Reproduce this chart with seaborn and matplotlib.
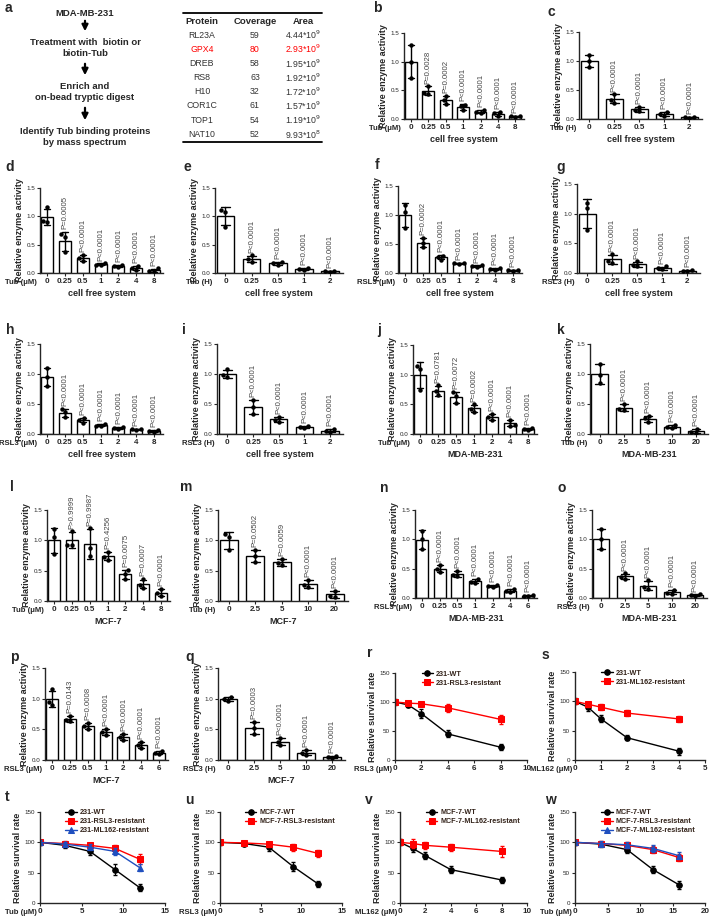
import matplotlib
matplotlib.use('Agg')
import matplotlib.pyplot as plt
import seaborn as sns
import pandas as pd
import numpy as np

sns.set_style('ticks')
plt.rcParams['font.family'] = ['Liberation Sans', 'DejaVu Sans']
plt.rcParams['axes.linewidth'] = 1.0

# ---- panel a table ----
proteins = ['RL23A', 'GPX4', 'DREB', 'RS8', 'H10', 'COR1C', 'TOP1', 'NAT10']
coverage = [59, 80, 58, 63, 32, 61, 54, 52]
area = ['4.44*10$^9$', '2.93*10$^9$', '1.95*10$^9$', '1.92*10$^9$',
        '1.72*10$^9$', '1.57*10$^9$', '1.19*10$^9$', '9.93*10$^8$']
flow_steps = ['MDA-MB-231', 'Treatment with  biotin or\nbiotin-Tub',
              'Enrich and\non-bead tryptic digest',
              'Identify Tub binding proteins\nby mass spectrum']

# ---- bar panels: doses and 3 replicates per dose ----
dose_um = ['0', '0.25', '0.5', '1', '2', '4', '8']
dose_um6 = ['0', '0.25', '0.5', '1', '2', '4', '6']
dose_h = ['0', '0.25', '0.5', '1', '2']
dose_h2 = ['0', '2.5', '5', '10', '20']

b_reps = [[0.71, 1.0, 1.29], [0.58, 0.44, 0.45], [0.40, 0.33, 0.26], [0.25, 0.22, 0.15],
          [0.16, 0.12, 0.11], [0.12, 0.10, 0.05], [0.06, 0.05, 0.04]]
b_p = ['P=0.0028', 'P=0.0002', 'P<0.0001', 'P<0.0001', 'P<0.0001', 'P<0.0001']
c_reps = [[1.1, 1.0, 0.9], [0.43, 0.33, 0.28], [0.21, 0.16, 0.13], [0.12, 0.09, 0.06],
          [0.04, 0.03, 0.02]]
c_p = ['P<0.0001'] * 4
d_reps = [[1.16, 0.92, 0.90], [0.68, 0.64, 0.37], [0.32, 0.27, 0.22], [0.17, 0.15, 0.14],
          [0.15, 0.13, 0.11], [0.13, 0.08, 0.06], [0.08, 0.04, 0.03]]
d_p = ['P=0.0005'] + ['P<0.0001'] * 5
e_reps = [[1.12, 1.08, 0.82], [0.31, 0.24, 0.20], [0.19, 0.17, 0.15], [0.09, 0.07, 0.05],
          [0.04, 0.03, 0.02]]
e_p = ['P<0.0001'] * 4
f_reps = [[1.17, 1.05, 0.78], [0.60, 0.52, 0.44], [0.30, 0.28, 0.23], [0.18, 0.17, 0.16],
          [0.13, 0.12, 0.11], [0.08, 0.07, 0.06], [0.06, 0.05, 0.04]]
f_p = ['P=0.0002'] + ['P<0.0001'] * 5
g_reps = [[1.18, 1.10, 0.72], [0.32, 0.20, 0.17], [0.20, 0.13, 0.12], [0.11, 0.08, 0.06],
          [0.05, 0.04, 0.03]]
g_p = ['P<0.0001'] * 4
h_reps = [[1.10, 0.95, 0.80], [0.41, 0.36, 0.28], [0.27, 0.24, 0.19], [0.16, 0.14, 0.13],
          [0.11, 0.10, 0.09], [0.09, 0.08, 0.07], [0.07, 0.05, 0.04]]
h_p = ['P<0.0001'] * 6
i_reps = [[1.08, 0.99, 0.95], [0.56, 0.45, 0.33], [0.29, 0.24, 0.20], [0.14, 0.12, 0.10],
          [0.08, 0.05, 0.04]]
i_p = ['P<0.0001'] * 4
j_reps = [[1.15, 1.10, 0.75], [0.82, 0.72, 0.65], [0.70, 0.64, 0.52], [0.50, 0.42, 0.37],
          [0.34, 0.28, 0.24], [0.24, 0.16, 0.14], [0.10, 0.08, 0.06]]
j_p = ['P=0.0781', 'P=0.0072', 'P=0.0002', 'P<0.0001', 'P<0.0001', 'P<0.0001']
k_reps = [[1.17, 0.98, 0.85], [0.50, 0.42, 0.40], [0.30, 0.26, 0.20], [0.15, 0.12, 0.10],
          [0.09, 0.04, 0.02]]
k_p = ['P<0.0001'] * 4
l_reps = [[1.18, 1.05, 0.77], [1.15, 0.93, 0.92], [1.21, 0.87, 0.74], [0.81, 0.73, 0.68],
          [0.51, 0.45, 0.36], [0.36, 0.27, 0.22], [0.20, 0.13, 0.09]]
l_p = ['P>0.9999', 'P=0.9987', 'P=0.4256', 'P=0.0075', 'P=0.0007', 'P<0.0001']
m_reps = [[1.10, 1.06, 0.84], [0.84, 0.74, 0.64], [0.70, 0.63, 0.59], [0.35, 0.26, 0.23],
          [0.17, 0.09, 0.07]]
m_p = ['P=0.0502', 'P=0.0059', 'P<0.0001', 'P<0.0001']
n_reps = [[1.15, 1.00, 0.83], [0.56, 0.50, 0.44], [0.46, 0.40, 0.37], [0.32, 0.28, 0.26],
          [0.22, 0.20, 0.19], [0.15, 0.12, 0.10], [0.05, 0.04, 0.03]]
n_p = ['P<0.0001'] * 6
o_reps = [[1.17, 1.00, 0.83], [0.42, 0.36, 0.33], [0.30, 0.18, 0.15], [0.14, 0.09, 0.07],
          [0.06, 0.05, 0.04]]
o_p = ['P<0.0001'] * 4
p_reps = [[1.15, 0.95, 0.90], [0.72, 0.66, 0.63], [0.60, 0.55, 0.50], [0.50, 0.45, 0.40],
          [0.42, 0.37, 0.32], [0.30, 0.25, 0.20], [0.15, 0.12, 0.09]]
p_p = ['P=0.0143', 'P=0.0008', 'P<0.0001', 'P<0.0001', 'P<0.0001', 'P<0.0001']
q_reps = [[1.03, 1.00, 0.97], [0.62, 0.52, 0.42], [0.36, 0.30, 0.24], [0.16, 0.12, 0.08],
          [0.07, 0.05, 0.03]]
q_p = ['P=0.0003'] + ['P<0.0001'] * 3

# ---- survival curves: mean and sd ----
r_x = [0, 1, 2, 4, 8]
r_wt = [100, 95, 80, 45, 22]
r_wt_sd = [5, 4, 8, 6, 5]
r_res = [100, 98, 97, 90, 70]
r_res_sd = [4, 3, 3, 7, 8]
s_x = [0, 0.5, 1, 2, 4]
s_wt = [100, 90, 70, 38, 15]
s_wt_sd = [5, 6, 6, 4, 6]
s_res = [100, 95, 90, 80, 70]
s_res_sd = [4, 4, 5, 5, 5]
t_x = [0, 3, 6, 9, 12]
t_wt = [100, 95, 85, 55, 25]
t_wt_sd = [4, 5, 6, 9, 6]
t_rsl = [100, 98, 95, 90, 72]
t_rsl_sd = [4, 4, 4, 6, 8]
t_ml = [100, 97, 92, 85, 58]
t_ml_sd = [4, 4, 5, 6, 6]
u_x = [0, 3, 6, 9, 12]
u_wt = [100, 98, 92, 60, 32]
u_wt_sd = [4, 4, 6, 8, 5]
u_res = [100, 99, 97, 92, 82]
u_res_sd = [4, 3, 4, 6, 6]
v_x = [0, 1, 2, 4, 8]
v_wt = [100, 90, 78, 55, 38]
v_wt_sd = [5, 6, 6, 6, 5]
v_res = [100, 98, 95, 92, 85]
v_res_sd = [5, 8, 6, 6, 9]
w_x = [0, 4, 8, 12, 16]
w_wt = [100, 97, 88, 55, 30]
w_wt_sd = [4, 4, 5, 6, 7]
w_rsl = [100, 98, 95, 88, 75]
w_rsl_sd = [4, 4, 5, 6, 6]
w_ml = [100, 98, 96, 90, 78]
w_ml_sd = [4, 4, 5, 6, 6]

W, H = 723, 918
fig = plt.figure(figsize=(W / 100, H / 100), dpi=100)


def box(l, t, r, b):
    return fig.add_axes([l / W, 1 - b / H, (r - l) / W, (b - t) / H])


def letter(x, y, s):
    fig.text(x / W, 1 - y / H, s, fontsize=10, fontweight='bold', va='center', ha='left')


def style_axis(ax, xname, cell):
    sns.despine(ax=ax)
    ax.tick_params(axis='both', length=2, width=0.8, pad=1.5)
    ax.tick_params(axis='x', labelsize=5.8)
    ax.tick_params(axis='y', labelsize=4.5)
    for t in ax.get_xticklabels():
        t.set_fontweight('bold')
    ax.annotate(xname, xy=(0, 0), xycoords='axes fraction', xytext=(-2, -4.2),
                textcoords='offset points', ha='right', va='top', fontsize=5.6, fontweight='bold')
    if cell:
        ax.set_xlabel(cell, fontsize=6.5, fontweight='bold', labelpad=3)
    else:
        ax.set_xlabel('')


def bar_panel(rect, doses, reps, pvals, xname, cell):
    ax = box(*rect)
    df = pd.DataFrame({'dose': np.repeat(doses, 3), 'val': np.concatenate(reps)})
    sns.barplot(data=df, x='dose', y='val', order=doses, errorbar='sd', capsize=0.35,
                width=0.68, color='white', edgecolor='black', linewidth=1.0,
                err_kws={'color': 'black', 'linewidth': 1.0}, ax=ax)
    sns.swarmplot(data=df, x='dose', y='val', order=doses, color='black', size=3.2, ax=ax)
    stats = df.groupby('dose')['val'].agg(['mean', 'std']).reindex(doses)
    for i, p in enumerate(pvals, start=1):
        top = stats['mean'].iloc[i] + stats['std'].iloc[i]
        ax.text(i, top + 0.05, p, rotation=90, ha='center', va='bottom', fontsize=5.6,
                color='#444444')
    ax.set_xlim(-0.4, len(doses) - 0.5)
    ax.set_ylim(0, 1.5)
    ax.set_yticks([0, 0.5, 1.0, 1.5])
    ax.set_yticklabels(['0.0', '0.5', '1.0', '1.5'])
    ax.set_ylabel('Relative enzyme activity', fontsize=6.5, fontweight='bold', labelpad=2)
    style_axis(ax, xname, cell)
    return ax


def line_panel(rect, xs, series, xmax, xticks, xname, cell=None):
    ax = box(*rect)
    for label, mean, sd, color, marker in series:
        d = pd.DataFrame({'x': xs, 'y': mean})
        sns.lineplot(data=d, x='x', y='y', color=color, marker=marker, markersize=4,
                     markeredgecolor=color, linewidth=1.0, label=label, ax=ax)
        ax.errorbar(xs, mean, yerr=sd, fmt='none', ecolor=color, elinewidth=0.8, capsize=1.5)
    ax.set_xlim(0, xmax)
    ax.set_xticks(xticks)
    ax.set_ylim(0, 150)
    ax.set_yticks([0, 50, 100, 150])
    ax.set_ylabel('Relative survival rate', fontsize=6.5, fontweight='bold', labelpad=2)
    leg = ax.legend(loc='upper left', bbox_to_anchor=(0.18, 1.06), frameon=False,
                    fontsize=5.2, handlelength=1.6, labelspacing=0.25, handletextpad=0.4,
                    borderaxespad=0)
    for t in leg.get_texts():
        t.set_fontweight('bold')
        t.set_color('#33231a')
    style_axis(ax, xname, cell)
    return ax


# ---- panel a ----
ov = fig.add_axes([0, 0, 1, 1])
ov.set_xlim(0, W)
ov.set_ylim(H, 0)
ov.axis('off')
cx = 85
flow_y = [13, 48, 92, 137]
for s, y in zip(flow_steps, flow_y):
    ov.text(cx, y, s, ha='center', va='center', fontsize=6.8, fontweight='bold',
            linespacing=1.25)
for y0, y1 in [(18, 34), (61, 78), (105, 123)]:
    ov.annotate('', xy=(cx, y1), xytext=(cx, y0),
                arrowprops=dict(arrowstyle='-|>', lw=1.6, color='black', mutation_scale=9))

ov.plot([183, 322], [13, 13], color='black', lw=1.3)
ov.plot([183, 322], [142, 142], color='black', lw=1.3)
for s, x in zip(['Protein', 'Coverage', 'Area'], [202, 255, 303]):
    ov.text(x, 22, s, ha='center', va='center', fontsize=6.8, fontweight='bold')
for k, (pr, cv, ar) in enumerate(zip(proteins, coverage, area)):
    y = 35 + k * 14.2
    col = 'red' if pr == 'GPX4' else '#333333'
    ov.text(202, y, pr, ha='center', va='center', fontsize=6.3, color=col)
    ov.text(255, y, str(cv), ha='center', va='center', fontsize=6.3, color=col)
    ov.text(303, y, ar, ha='center', va='center', fontsize=6.3, color=col)

# ---- bar panels ----
cfs = 'cell free system'
bar_panel((404, 33, 524, 119), dose_um, b_reps, b_p, 'Tub (μM)', cfs)
bar_panel((579, 32, 702, 119), dose_h, c_reps, c_p, 'Tub (H)', cfs)
bar_panel((40, 188, 163, 273), dose_um, d_reps, d_p, 'Tub (μM)', cfs)
bar_panel((215, 188, 343, 273), dose_h, e_reps, e_p, 'Tub (H)', cfs)
bar_panel((398, 186, 522, 273), dose_um, f_reps, f_p, 'RSL3 (μM)', cfs)
bar_panel((577, 184, 700, 273), dose_h, g_reps, g_p, 'RSL3 (H)', cfs)
bar_panel((40, 344, 163, 434), dose_um, h_reps, h_p, 'RSL3 (μM)', cfs)
bar_panel((217, 344, 343, 434), dose_h, i_reps, i_p, 'RSL3 (H)', cfs)
bar_panel((413, 345, 537, 434), dose_um, j_reps, j_p, 'Tub (μM)', 'MDA-MB-231')
bar_panel((590, 344, 708, 434), dose_h2, k_reps, k_p, 'Tub (H)', 'MDA-MB-231')
bar_panel((47, 510, 170, 601), dose_um, l_reps, l_p, 'Tub (μM)', 'MCF-7')
bar_panel((218, 510, 348, 601), dose_h2, m_reps, m_p, 'Tub (H)', 'MCF-7')
bar_panel((415, 510, 537, 598), dose_um6, n_reps, n_p, 'RSL3 (μM)', 'MDA-MB-231')
bar_panel((592, 510, 707, 598), dose_h2, o_reps, o_p, 'RSL3 (H)', 'MDA-MB-231')
bar_panel((45, 668, 168, 760), dose_um6, p_reps, p_p, 'RSL3 (μM)', 'MCF-7')
bar_panel((218, 668, 345, 760), dose_h2, q_reps, q_p, 'RSL3 (H)', 'MCF-7')

# ---- survival panels ----
line_panel((395, 673, 527, 760), r_x,
           [('231-WT', r_wt, r_wt_sd, 'black', 'o'),
            ('231-RSL3-resistant', r_res, r_res_sd, 'red', 's')],
           10, [0, 2, 4, 6, 8, 10], 'RSL3 (μM)')
line_panel((575, 672, 705, 760), s_x,
           [('231-WT', s_wt, s_wt_sd, 'black', 'o'),
            ('231-ML162-resistant', s_res, s_res_sd, 'red', 's')],
           5, [0, 1, 2, 3, 4, 5], 'ML162 (μM)')
line_panel((40, 812, 165, 903), t_x,
           [('231-WT', t_wt, t_wt_sd, 'black', 'o'),
            ('231-RSL3-resistant', t_rsl, t_rsl_sd, 'red', 's'),
            ('231-ML162-resistant', t_ml, t_ml_sd, '#1f4fbf', '^')],
           15, [0, 5, 10, 15], 'Tub (μM)')
line_panel((220, 812, 342, 903), u_x,
           [('MCF-7-WT', u_wt, u_wt_sd, 'black', 'o'),
            ('MCF-7-RSL3-resistant', u_res, u_res_sd, 'red', 's')],
           15, [0, 5, 10, 15], 'RSL3 (μM)')
line_panel((400, 812, 527, 903), v_x,
           [('MCF-7-WT', v_wt, v_wt_sd, 'black', 'o'),
            ('MCF-7-ML162-resistant', v_res, v_res_sd, 'red', 's')],
           10, [0, 2, 4, 6, 8, 10], 'ML162 (μM)')
line_panel((575, 812, 705, 903), w_x,
           [('MCF-7-WT', w_wt, w_wt_sd, 'black', 'o'),
            ('MCF-7-RSL3-resistant', w_rsl, w_rsl_sd, 'red', 's'),
            ('MCF-7-ML162-resistant', w_ml, w_ml_sd, '#1f4fbf', '^')],
           20, [0, 5, 10, 15, 20], 'Tub (μM)')

for s, x, y in [('a', 5, 8), ('b', 373, 8), ('c', 548, 12), ('d', 5, 167), ('e', 183, 167),
                ('f', 375, 165), ('g', 556, 167), ('h', 6, 330), ('i', 182, 330),
                ('j', 377, 330), ('k', 557, 330), ('l', 10, 487), ('m', 180, 487),
                ('n', 380, 488), ('o', 557, 488), ('p', 10, 657), ('q', 185, 657),
                ('r', 367, 653), ('s', 542, 655), ('t', 5, 797), ('u', 185, 800),
                ('v', 365, 800), ('w', 545, 800)]:
    letter(x, y, s)

fig.savefig('out.png', dpi=100)
